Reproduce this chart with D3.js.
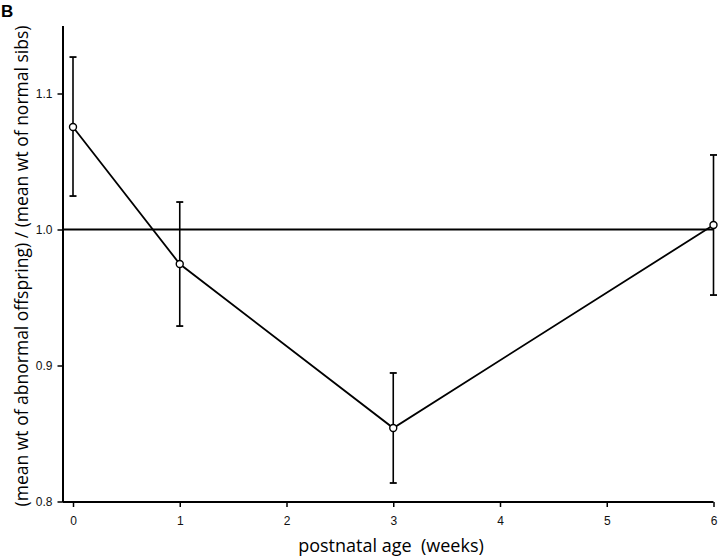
<!DOCTYPE html>
<html>
<head>
<meta charset="utf-8">
<script src="https://cdn.jsdelivr.net/npm/d3@7"></script>
<style>
  body { margin: 0; background: white; }
</style>
</head>
<body>
<div id="chart"></div>
<script>
// data
const weeks = [0, 1, 3, 6];
const ratio = [1.0754, 0.9746, 0.854, 1.0033];
const errHigh = [1.1268, 1.0202, 0.8945, 1.0548];
const errLow = [1.0246, 0.929, 0.8136, 0.9518];
const xTicks = [0, 1, 2, 3, 4, 5, 6];
const yTicks = [0.8, 0.9, 1.0, 1.1];

const width = 720, height = 558;

const svg = d3.select('#chart').append('svg')
    .attr('width', width)
    .attr('height', height);

const x = d3.scaleLinear().domain([0, 6]).range([73, 713.5]);
const y = d3.scaleLinear().domain([0.8, 1.15]).range([501.5, 25.5]);

// panel letter
svg.append('text')
    .attr('x', 1)
    .attr('y', 17)
    .attr('font-family', 'Liberation Sans, Arial, sans-serif')
    .attr('font-weight', 'bold')
    .attr('font-size', '17px')
    .text('B');

// y axis
const yAxis = svg.append('g')
    .attr('transform', 'translate(62.5,0)')
    .call(d3.axisLeft(y).tickValues(yTicks).tickFormat(d3.format('.1f')).tickSize(5).tickSizeOuter(0));
yAxis.select('.domain').attr('stroke-width', 2);
yAxis.selectAll('.tick line').attr('stroke-width', 1.5);
yAxis.selectAll('.tick text')
    .attr('font-family', 'Liberation Sans, Arial, sans-serif')
    .attr('font-size', '12px')
    .attr('x', -10)
    .attr('fill', '#111');

// x axis
const xAxis = svg.append('g')
    .attr('transform', 'translate(0,502)')
    .call(d3.axisBottom(x).tickValues(xTicks).tickFormat(d3.format('d')).tickSize(5).tickSizeOuter(0));
xAxis.select('.domain')
    .attr('stroke-width', 2)
    .attr('d', 'M' + 62.5 + ',0H' + x(6));
xAxis.selectAll('.tick line').attr('stroke-width', 1.5);
xAxis.selectAll('.tick text')
    .attr('font-family', 'Liberation Sans, Arial, sans-serif')
    .attr('font-size', '12px')
    .attr('y', 14)
    .attr('fill', '#111');

// reference line at 1.0
svg.append('line')
    .attr('x1', 62.5)
    .attr('x2', x(6))
    .attr('y1', y(1.0))
    .attr('y2', y(1.0))
    .attr('stroke', 'black')
    .attr('stroke-width', 1.8);

const pts = weeks.map((w, i) => ({w: w, v: ratio[i], hi: errHigh[i], lo: errLow[i]}));

// error bars
const eb = svg.append('g');
eb.selectAll('.bar')
    .data(pts)
    .enter()
    .append('line')
    .attr('x1', d => x(d.w))
    .attr('x2', d => x(d.w))
    .attr('y1', d => y(d.hi))
    .attr('y2', d => y(d.lo))
    .attr('stroke', 'black')
    .attr('stroke-width', 1.6);
eb.selectAll('.capHi')
    .data(pts)
    .enter()
    .append('line')
    .attr('x1', d => x(d.w) - 3.5)
    .attr('x2', d => x(d.w) + 3.5)
    .attr('y1', d => y(d.hi))
    .attr('y2', d => y(d.hi))
    .attr('stroke', 'black')
    .attr('stroke-width', 1.8);
eb.selectAll('.capLo')
    .data(pts)
    .enter()
    .append('line')
    .attr('x1', d => x(d.w) - 3.5)
    .attr('x2', d => x(d.w) + 3.5)
    .attr('y1', d => y(d.lo))
    .attr('y2', d => y(d.lo))
    .attr('stroke', 'black')
    .attr('stroke-width', 1.8);

// mean line
svg.append('path')
    .datum(pts)
    .attr('fill', 'none')
    .attr('stroke', 'black')
    .attr('stroke-width', 1.8)
    .attr('d', d3.line().x(d => x(d.w)).y(d => y(d.v)));

svg.selectAll('.pt')
    .data(pts)
    .enter()
    .append('circle')
    .attr('cx', d => x(d.w))
    .attr('cy', d => y(d.v))
    .attr('r', 3.5)
    .attr('fill', 'white')
    .attr('stroke', 'black')
    .attr('stroke-width', 1.4);

// axis titles
svg.append('text')
    .attr('x', 391)
    .attr('y', 552)
    .attr('text-anchor', 'middle')
    .attr('font-family', 'Open Sans, sans-serif')
    .attr('font-size', '18px')
    .text('postnatal age\u00a0 (weeks)');

svg.append('text')
    .attr('transform', 'translate(28,266) rotate(-90)')
    .attr('text-anchor', 'middle')
    .attr('font-family', 'Open Sans, sans-serif')
    .attr('font-size', '17.5px')
    .text('(mean wt of abnormal offspring) / (mean wt of normal sibs)');
</script>
</body>
</html>
